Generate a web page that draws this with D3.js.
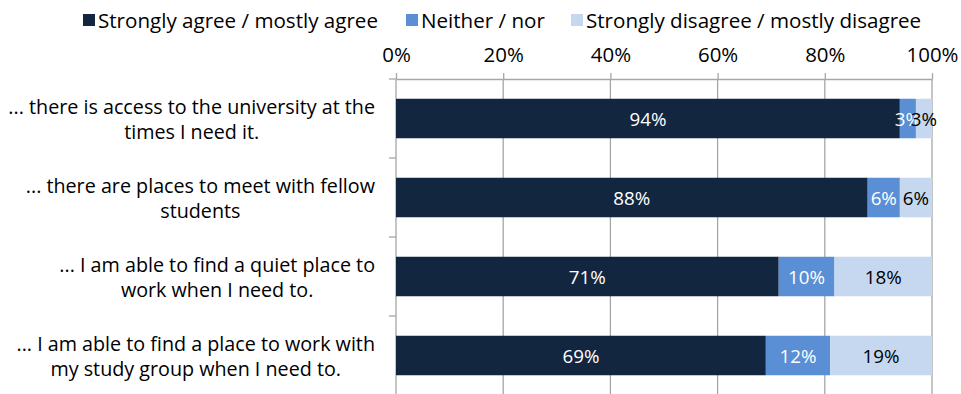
<!DOCTYPE html>
<html>
<head>
<meta charset="utf-8">
<script src="https://cdn.jsdelivr.net/npm/d3@7"></script>
<style>
  body { margin: 0; background: #ffffff; }
  text { font-family: "Open Sans", sans-serif; }
</style>
</head>
<body>
<svg id="chart" width="961" height="394"></svg>
<script>
// Survey statements (each entry is one wrapped label)
const categories = [
  ["... there is access to the university at the", "times I need it."],
  ["... there are places to meet with fellow", "students"],
  ["... I am able to find a quiet place to", "work when I need to."],
  ["... I am able to find a place to work with", "my study group when I need to."]
];
const seriesNames = ["Strongly agree / mostly agree", "Neither / nor", "Strongly disagree / mostly disagree"];
const agree    = [94, 88, 71.4, 69];
const neither  = [3, 6, 10.4, 12];
const disagree = [3, 6, 18.2, 19];
const tickValues = [0, 20, 40, 60, 80, 100];

const colors = ["#13263F", "#5A8ED5", "#C6D8F0"];
const labelColors = ["#ffffff", "#ffffff", "#000000"];
const gridColor = "#A6A6A6";

const svg = d3.select("#chart");
const W = 961, H = 394;
const plot = { left: 396, right: 932, top: 79, bottom: 395 };

// Helper: font size that makes a string span a given width
function fitSize(str, width) {
  const t = svg.append("text").attr("font-size", 100).text(str);
  const w = t.node().getComputedTextLength();
  t.remove();
  return 100 * width / w;
}

const keys = ["agree", "neither", "disagree"];
const rows = categories.map((c, i) => ({ idx: i, agree: agree[i], neither: neither[i], disagree: disagree[i] }));
const stacked = d3.stack().keys(keys)(rows);

const x = d3.scaleLinear().domain([0, 100]).range([plot.left, plot.right]);
const y = d3.scaleBand().domain(d3.range(categories.length))
  .range([plot.top, plot.bottom]).paddingInner(0.5).paddingOuter(0.25);

// Vertical gridlines
svg.append("g").selectAll("line").data(tickValues.slice(1)).join("line")
  .attr("x1", d => x(d)).attr("x2", d => x(d))
  .attr("y1", plot.top).attr("y2", H)
  .attr("stroke", gridColor).attr("stroke-width", 1.3);

// Top value axis
const tickFont = fitSize("100%", 52);
const xAxis = svg.append("g").attr("transform", `translate(0,${plot.top})`)
  .call(d3.axisTop(x).tickValues(tickValues).tickFormat(d => d + "%")
    .tickSize(6).tickSizeOuter(0).tickPadding(11));
xAxis.select(".domain").attr("stroke", gridColor).attr("stroke-width", 1.3);
xAxis.selectAll(".tick line").attr("stroke", gridColor).attr("stroke-width", 1.3);
xAxis.selectAll(".tick text").attr("fill", "#000").attr("font-size", tickFont)
  .style("font-family", "'Open Sans', sans-serif");

// Category axis: line with ticks at band boundaries
const step = y.step();
const y0 = y.range()[0];
svg.append("line").attr("x1", plot.left).attr("x2", plot.left)
  .attr("y1", plot.top).attr("y2", H)
  .attr("stroke", gridColor).attr("stroke-width", 1.3);
svg.append("g").selectAll("line").data(d3.range(categories.length + 1)).join("line")
  .attr("x1", plot.left - 7).attr("x2", plot.left)
  .attr("y1", i => y0 + i * step).attr("y2", i => y0 + i * step)
  .attr("stroke", gridColor).attr("stroke-width", 1.3);

// Stacked bars
const layers = svg.append("g").selectAll("g").data(stacked).join("g")
  .attr("fill", (d, i) => colors[i]);
layers.selectAll("rect").data(d => d).join("rect")
  .attr("x", d => x(d[0]))
  .attr("width", d => x(d[1]) - x(d[0]))
  .attr("y", d => y(d.data.idx))
  .attr("height", y.bandwidth());

// Value labels inside segments
const valFont = fitSize("10%", 37);
const labels = svg.append("g").selectAll("g").data(stacked).join("g")
  .attr("fill", (d, i) => labelColors[i]);
labels.selectAll("text").data(d => d).join("text")
  .attr("x", d => (x(d[0]) + x(d[1])) / 2)
  .attr("y", d => y(d.data.idx) + y.bandwidth() / 2)
  .attr("text-anchor", "middle")
  .attr("dominant-baseline", "central")
  .attr("font-size", valFont)
  .text(d => Math.round(d[1] - d[0]) + "%");

// Category labels, each block centred and right-aligned to the axis
const catFont = fitSize(categories[0][0], 367);
const lineGap = 25;
const catG = svg.append("g");
categories.forEach((lines, i) => {
  const cy = y(i) + y.bandwidth() / 2;
  const g = catG.append("g");
  const texts = lines.map((ln, j) => g.append("text")
    .attr("font-size", catFont)
    .attr("text-anchor", "middle")
    .attr("dominant-baseline", "central")
    .attr("y", cy + (j - (lines.length - 1) / 2) * lineGap)
    .attr("fill", "#000")
    .text(ln));
  const maxW = d3.max(texts, t => t.node().getComputedTextLength());
  texts.forEach(t => t.attr("x", 375 - maxW / 2));
});

// Legend
const legendX = [83, 406, 571];
const legendFont = fitSize(seriesNames[0], 280);
const leg = svg.append("g").selectAll("g").data(seriesNames).join("g")
  .attr("transform", (d, i) => `translate(${legendX[i]},0)`);
leg.append("rect").attr("x", 0).attr("y", 14).attr("width", 12).attr("height", 12)
  .attr("fill", (d, i) => colors[i]);
leg.append("text").attr("x", 15).attr("y", 20)
  .attr("dominant-baseline", "central")
  .attr("font-size", legendFont).attr("fill", "#000")
  .text(d => d);
</script>
</body>
</html>
